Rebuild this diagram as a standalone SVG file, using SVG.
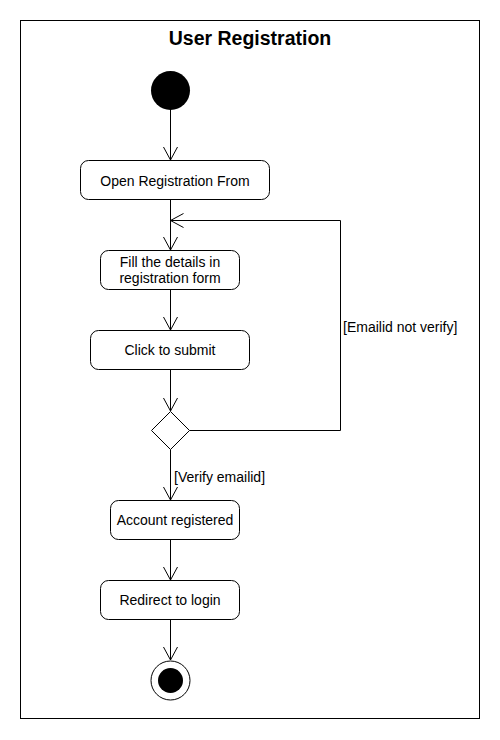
<svg xmlns="http://www.w3.org/2000/svg" width="500" height="740" viewBox="0 0 500 740">
<style>
.box{fill:#fff;stroke:#000;stroke-width:1}
.t{font-family:"Liberation Sans",Arial,sans-serif;font-size:14px;fill:#000;text-anchor:middle}
.l{font-family:"Liberation Sans",Arial,sans-serif;font-size:14px;fill:#000}
.e{fill:none;stroke:#000;stroke-width:1}
</style>
<defs>
<marker id="arr" markerWidth="16" markerHeight="16" viewBox="-14 -8 16 16" refX="0" refY="0" orient="auto" markerUnits="userSpaceOnUse">
<path d="M-13,-7 L0,0 L-13,7" fill="none" stroke="#000" stroke-width="1"/>
</marker>
</defs>
<rect width="500" height="740" fill="#fff"/>
<rect x="20.5" y="20.5" width="459" height="698" fill="none" stroke="#000" stroke-width="1"/>
<text x="250" y="45" font-family="'Liberation Sans',Arial,sans-serif" font-size="19.5" font-weight="bold" text-anchor="middle">User Registration</text>
<g id="connectors">
<path class="e" d="M170.5,110 L170.5,160" marker-end="url(#arr)"/>
<path class="e" d="M170.5,200 L170.5,250" marker-end="url(#arr)"/>
<path class="e" d="M170.5,290 L170.5,330" marker-end="url(#arr)"/>
<path class="e" d="M170.5,370 L170.5,411" marker-end="url(#arr)"/>
<path class="e" d="M189.5,430.5 L340.5,430.5 L340.5,220.5 L170.5,220.5" marker-end="url(#arr)"/>
<path class="e" d="M170.5,449.5 L170.5,500" marker-end="url(#arr)"/>
<path class="e" d="M170.5,540 L170.5,580" marker-end="url(#arr)"/>
<path class="e" d="M170.5,620 L170.5,660" marker-end="url(#arr)"/>
<text class="l" x="343" y="332">[Emailid not verify]</text>
<text class="l" x="174" y="482">[Verify emailid]</text>
</g>
<g id="start"><circle cx="170.5" cy="90.5" r="19.5" fill="#000"/></g>
<g id="open"><rect class="box" x="80.5" y="160.5" width="189" height="39" rx="8"/><text class="t" x="175" y="186">Open Registration From</text></g>
<g id="fill"><rect class="box" x="100.5" y="250.5" width="139" height="39" rx="8"/><text class="t" x="170" y="267">Fill the details in</text><text class="t" x="170" y="283">registration form</text></g>
<g id="submit"><rect class="box" x="90.5" y="330.5" width="159" height="39" rx="8"/><text class="t" x="170" y="355">Click to submit</text></g>
<g id="decision"><polygon class="box" points="170.5,411.5 189.5,430.5 170.5,449.5 151.5,430.5"/></g>
<g id="account"><rect class="box" x="110.5" y="500.5" width="129" height="39" rx="8"/><text class="t" x="175" y="525">Account registered</text></g>
<g id="redirect"><rect class="box" x="100.5" y="580.5" width="139" height="39" rx="8"/><text class="t" x="170" y="605">Redirect to login</text></g>
<g id="end"><circle cx="170.5" cy="680.5" r="19.5" fill="#fff" stroke="#000"/><circle cx="170.5" cy="680.5" r="12.5" fill="#000"/></g>
</svg>
